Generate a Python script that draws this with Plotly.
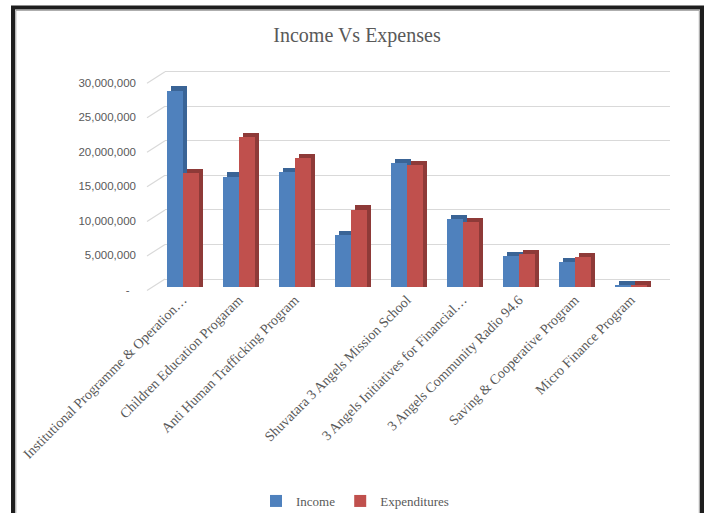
import plotly.graph_objects as go

categories = [
    "Institutional Programme & Operation…",
    "Children Education Progaram",
    "Anti Human Trafficking Program",
    "",
    "Shuvatara 3 Angels Mission School",
    "3 Angels Initiatives for Financial…",
    "3 Angels Community Radio 94.6",
    "Saving & Cooperative Program",
    "Micro Finance Program",
]
income = [28000000, 15700000, 16400000, 7400000, 17600000, 9600000, 4400000, 3500000, 200000]
expenditures = [16200000, 21300000, 18300000, 11000000, 17400000, 9200000, 4600000, 4200000, 150000]
ytick_vals = [0, 5000000, 10000000, 15000000, 20000000, 25000000, 30000000]
ytick_text = ["-  ", "5,000,000", "10,000,000", "15,000,000", "20,000,000", "25,000,000", "30,000,000"]

W, H = 710, 513
L, R, T, B = 165, 40, 64, 219  # plot area x 165..670, y 64..294
PW = W - L - R
PH = H - T - B
bottom_px = H - B

xpos = list(range(len(categories)))
bw = 0.286
dx = 0.077          # depth offset in category units (~4px)
dy = 600000         # depth offset in value units (~4px)

BLUE, BLUE_D = "#4f81bd", "#3a6496"
RED, RED_D = "#c0504d", "#8e3a38"

fig = go.Figure()
# depth (side/top faces)
fig.add_trace(go.Bar(x=xpos, y=[v + dy for v in income], offset=-bw + dx, width=bw,
                     marker=dict(color=BLUE_D, line=dict(width=0)), showlegend=False, hoverinfo="skip"))
fig.add_trace(go.Bar(x=xpos, y=[v + dy for v in expenditures], offset=dx, width=bw,
                     marker=dict(color=RED_D, line=dict(width=0)), showlegend=False, hoverinfo="skip"))
# front faces
fig.add_trace(go.Bar(x=xpos, y=income, offset=-bw, width=bw, name="Income",
                     marker=dict(color=BLUE, line=dict(width=0))))
fig.add_trace(go.Bar(x=xpos, y=expenditures, offset=0, width=bw, name="Expenditures",
                     marker=dict(color=RED, line=dict(width=0))))

# scales
front_scale = 7.0 / 1e6      # px per unit
back_scale = 6.91 / 1e6
r0 = -(bottom_px - 286.5) / front_scale
r1 = r0 + PH / front_scale
g0 = -(bottom_px - 279) / back_scale
g1 = g0 + PH / back_scale
l0 = -(bottom_px - 290) / back_scale
l1 = l0 + PH / back_scale

x0 = -(182.7 - L) / 56.0
x1 = x0 + PW / 56.0

grey = "#595959"
fig.update_layout(
    width=W, height=H, autosize=False,
    margin=dict(l=L, r=R, t=T, b=B, autoexpand=False),
    paper_bgcolor="white", plot_bgcolor="white",
    barmode="overlay", bargap=0,
    title=dict(text="Income Vs Expenses", x=357 / W, y=1 - 35 / H, xref="container", yref="container",
               xanchor="center", yanchor="middle", automargin=False,
               font=dict(family="Liberation Serif", size=20, color=grey)),
    xaxis=dict(range=[x0, x1], tickmode="array", tickvals=xpos, ticktext=categories,
               tickangle=-45, showgrid=False, zeroline=False, showline=False, ticks="",
               ticklabelstandoff=-6, automargin=False,
               tickfont=dict(family="Liberation Serif", size=14, color=grey)),
    yaxis=dict(range=[r0, r1], showgrid=False, zeroline=False, showline=False,
               showticklabels=False, ticks="", automargin=False),
    yaxis2=dict(range=[g0, g1], overlaying="y", side="left", showgrid=True, gridcolor="#d9d9d9",
                gridwidth=1.3, tickmode="array", tickvals=ytick_vals, showticklabels=False,
                zeroline=False, showline=False, ticks="", automargin=False),
    yaxis3=dict(range=[l0, l1], overlaying="y", side="left", showgrid=False, zeroline=False,
                showline=False, ticks="", tickmode="array", tickvals=ytick_vals, ticktext=ytick_text,
                ticklabelstandoff=28, automargin=False,
                tickfont=dict(family="Liberation Sans", size=11.5, color=grey)),
    legend=dict(orientation="h", xref="container", yref="container",
                x=355 / W, xanchor="center", y=1 - 501 / H, yanchor="middle",
                font=dict(family="Liberation Serif", size=13, color=grey),
                itemwidth=30, bgcolor="rgba(0,0,0,0)"),
    showlegend=True,
)

# invisible anchors so the overlay axes render
fig.add_trace(go.Scatter(x=[x0], y=[0], yaxis="y2", mode="markers", marker=dict(opacity=0),
                         showlegend=False, hoverinfo="skip"))
fig.add_trace(go.Scatter(x=[x0], y=[0], yaxis="y3", mode="markers", marker=dict(opacity=0),
                         showlegend=False, hoverinfo="skip"))

# side-wall diagonal stubs for gridlines
for t in ytick_vals:
    fig.add_shape(type="line", xref="paper", yref="y2",
                  x0=-18 / PW, x1=0, y0=t - 11.5 / 6.91 * 1e6, y1=t,
                  line=dict(color="#d9d9d9", width=1.2))


# chart frame (left, top, right edges; bottom runs off the picture)
def px_x(p):
    return (p - L) / PW


def px_y(p):
    return (bottom_px - p) / PH


def frame_path(xl, xr, yt, yb):
    return (f"M {px_x(xl)},{px_y(yb)} L {px_x(xl)},{px_y(yt)} "
            f"L {px_x(xr)},{px_y(yt)} L {px_x(xr)},{px_y(yb)}")


fig.add_shape(type="path", xref="paper", yref="paper", path=frame_path(13, 702, 7.5, 513),
              line=dict(color="#1e1e1e", width=4), layer="above")
fig.add_shape(type="path", xref="paper", yref="paper", path=frame_path(15.8, 699.3, 10.3, 513),
              line=dict(color="#9a9a9a", width=1), layer="above")

fig.write_html("out.html", config={"displayModeBar": False},
               post_script="document.body.style.margin='0';document.body.style.overflow='hidden';")
